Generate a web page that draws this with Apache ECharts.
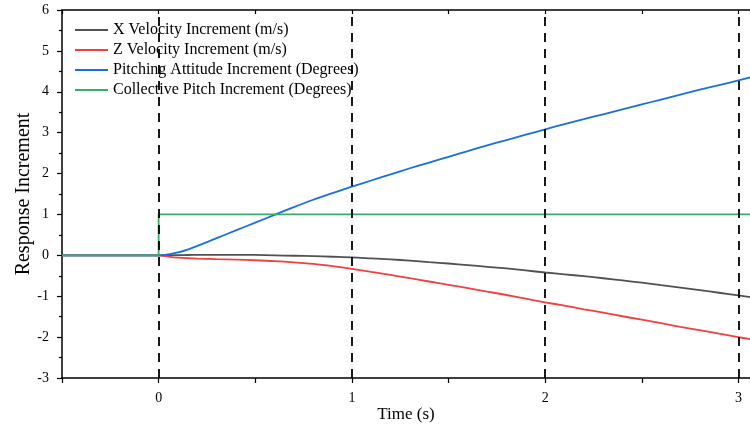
<!DOCTYPE html>
<html>
<head>
<meta charset="utf-8">
<script src="https://cdn.jsdelivr.net/npm/echarts@6/dist/echarts.min.js"></script>
<style>
  html, body { margin: 0; padding: 0; background: #fff; }
  #chart { width: 750px; height: 430px; }
</style>
</head>
<body>
<div id="chart"></div>
<script>
// Time samples (s) shared by the three response curves
const time = [-0.5, 0, 0.05, 0.1, 0.15, 0.2, 0.3, 0.4, 0.5, 0.6, 0.7, 0.8, 0.9, 1.0,
  1.1, 1.2, 1.3, 1.4, 1.5, 1.6, 1.7, 1.8, 1.9, 2.0, 2.1, 2.2, 2.3, 2.4, 2.5,
  2.6, 2.7, 2.8, 2.9, 3.0, 3.06];

// X velocity increment (m/s)
const xVelocity = [0, 0, 0.002, 0.005, 0.008, 0.01, 0.012, 0.012, 0.01, 0.0, -0.01, -0.02, -0.035, -0.05,
  -0.075, -0.1, -0.13, -0.165, -0.2, -0.24, -0.28, -0.32, -0.37, -0.42, -0.465, -0.51, -0.56, -0.615, -0.67,
  -0.73, -0.79, -0.85, -0.915, -0.98, -1.02];

// Z velocity increment (m/s)
const zVelocity = [0, 0, -0.03, -0.055, -0.07, -0.08, -0.095, -0.105, -0.12, -0.14, -0.17, -0.21, -0.265, -0.33,
  -0.405, -0.48, -0.56, -0.64, -0.72, -0.8, -0.885, -0.97, -1.06, -1.15, -1.23, -1.32, -1.4, -1.49, -1.575,
  -1.66, -1.75, -1.83, -1.915, -2.0, -2.05];

// Pitching attitude increment (deg)
const pitchAttitude = [0, 0, 0.025, 0.07, 0.14, 0.23, 0.42, 0.61, 0.8, 0.99, 1.18, 1.36, 1.52, 1.68,
  1.83, 1.98, 2.13, 2.27, 2.41, 2.55, 2.69, 2.82, 2.95, 3.08, 3.21, 3.33, 3.45, 3.57, 3.69,
  3.81, 3.93, 4.05, 4.16, 4.28, 4.35];

// Collective pitch step input (deg)
const collectiveTime = [-0.5, 0, 0, 3.06];
const collectivePitch = [0, 0, 1, 1];

const seriesNames = [
  'X Velocity Increment (m/s)',
  'Z Velocity Increment (m/s)',
  'Pitching Attitude Increment (Degrees)',
  'Collective Pitch Increment (Degrees)'
];
const seriesColors = ['#515151', '#F14040', '#1A6FDF', '#37AD6B'];

// Vertical reference lines and labelled time ticks
const guideTimes = [0, 1, 2, 3];
const xRange = [-0.5, 3.06];
const yRange = [-3, 6];

const font = 'Liberation Serif, Times New Roman, serif';

function pairs(xs, ys) {
  return xs.map((x, i) => [x, ys[i]]);
}

const chart = echarts.init(document.getElementById('chart'), null, { renderer: 'canvas' });

const lineSeries = (name, data, color, extra) => Object.assign({
  name: name,
  type: 'line',
  data: data,
  xAxisIndex: 0,
  yAxisIndex: 0,
  showSymbol: false,
  symbol: 'none',
  smooth: 0.3,
  animation: false,
  lineStyle: { color: color, width: 1.8 },
  itemStyle: { color: color }
}, extra || {});

chart.setOption({
  animation: false,
  backgroundColor: '#fff',
  textStyle: { fontFamily: font },
  grid: { left: 62, top: 10, right: 0, bottom: 52, containLabel: false, outerBoundsMode: 'none' },
  legend: {
    left: 70,
    top: 17,
    orient: 'vertical',
    itemWidth: 33,
    itemHeight: 2,
    itemGap: 4,
    icon: 'rect',
    textStyle: { fontFamily: font, fontSize: 16, color: '#000' },
    data: seriesNames
  },
  xAxis: [
    {
      type: 'value',
      position: 'bottom',
      min: xRange[0],
      max: xRange[1],
      interval: 0.5,
      name: 'Time (s)',
      nameLocation: 'middle',
      nameGap: 28,
      nameMoveOverlap: false,
      nameTextStyle: { fontFamily: font, fontSize: 17, color: '#000' },
      axisLine: { onZero: false, lineStyle: { color: '#000', width: 1.5 } },
      axisTick: { show: true, inside: false, length: 5, lineStyle: { color: '#000', width: 1.2 } },
      axisLabel: {
        fontFamily: font, fontSize: 14, color: '#000', margin: 13,
        formatter: v => (Math.abs(v - Math.round(v)) < 1e-9 ? String(Math.round(v)) : '')
      },
      splitLine: { show: false }
    },
    {
      type: 'value',
      position: 'top',
      min: xRange[0],
      max: xRange[1],
      interval: 0.5,
      axisLine: { onZero: false, lineStyle: { color: '#000', width: 1.5 } },
      axisTick: { show: true, inside: true, length: 4, lineStyle: { color: '#000', width: 1.2 } },
      axisLabel: { show: false },
      splitLine: { show: false }
    }
  ],
  yAxis: {
    type: 'value',
    min: yRange[0],
    max: yRange[1],
    interval: 1,
    name: 'Response Increment',
    nameLocation: 'middle',
    nameGap: 28,
    nameMoveOverlap: false,
    nameRotate: 90,
    nameTextStyle: { fontFamily: font, fontSize: 20, color: '#000' },
    axisLine: { show: true, onZero: false, lineStyle: { color: '#000', width: 1.5 } },
    axisTick: { show: true, inside: false, length: 5, lineStyle: { color: '#000', width: 1.2 } },
    minorTick: { show: true, splitNumber: 2, length: 3, lineStyle: { color: '#000', width: 1.2 } },
    axisLabel: { fontFamily: font, fontSize: 14, color: '#000', margin: 13 },
    splitLine: { show: false }
  },
  series: [
    lineSeries(seriesNames[0], pairs(time, xVelocity), seriesColors[0]),
    lineSeries(seriesNames[1], pairs(time, zVelocity), seriesColors[1]),
    lineSeries(seriesNames[2], pairs(time, pitchAttitude), seriesColors[2]),
    lineSeries(seriesNames[3], pairs(collectiveTime, collectivePitch), seriesColors[3], {
      smooth: false,
      z: 3,
      markLine: {
        silent: true,
        symbol: ['none', 'none'],
        label: { show: false },
        animation: false,
        z: 5,
        lineStyle: { color: '#000', type: [9, 7], width: 1.8 },
        data: guideTimes.map(t => ({ xAxis: t }))
      }
    })
  ]
});
</script>
</body>
</html>
